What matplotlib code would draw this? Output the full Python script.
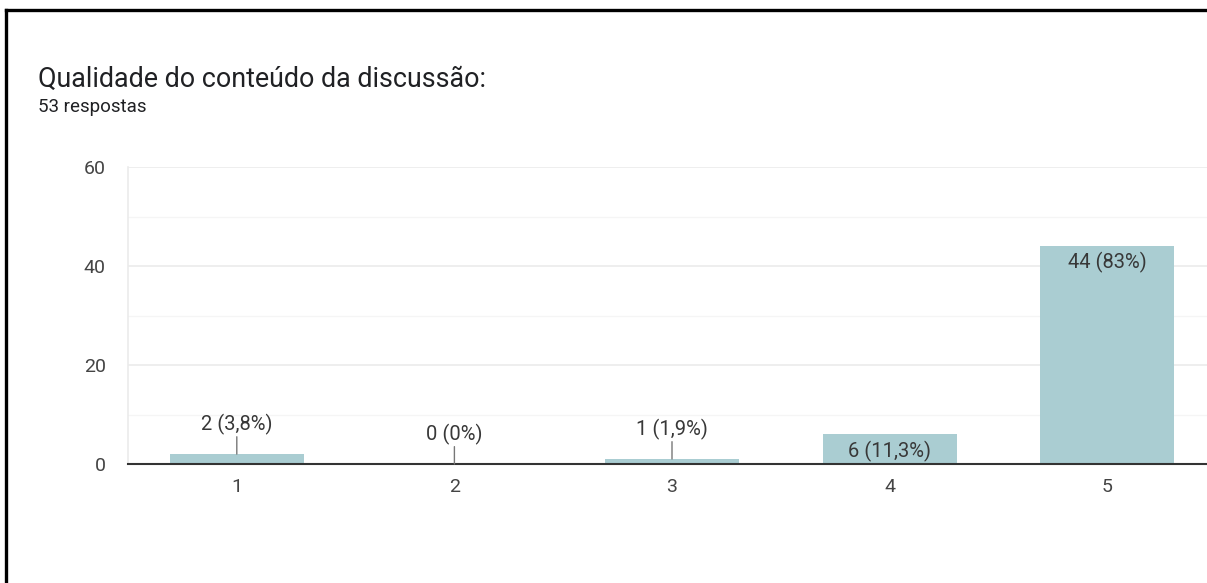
import matplotlib.pyplot as plt
from matplotlib.lines import Line2D

# Respostas por nota
categorias = ['1', '2', '3', '4', '5']
respostas = [2, 0, 1, 6, 44]
rotulos = ['2 (3,8%)', '0 (0%)', '1 (1,9%)', '6 (11,3%)', '44 (83%)']
rotulo_dentro = [False, False, False, True, True]

plt.rcParams['font.family'] = ['Roboto', 'DejaVu Sans']

fig = plt.figure(figsize=(12.07, 5.83), dpi=100)
W, H = 1207, 583

# Eixo posicionado em pixels (o lado direito passa da borda da figura)
x0, x1 = 128, 128 + 1088
y0, y1 = 464, 167
ax = fig.add_axes([x0 / W, 1 - y0 / H, (x1 - x0) / W, (y0 - y1) / H])

x = range(len(categorias))
ax.bar(x, respostas, width=0.615, color='#aacdd2', zorder=3)

ax.set_xlim(-0.5, 4.5)
ax.set_ylim(0, 60)
ax.set_yticks([0, 20, 40, 60])
ax.set_yticks([10, 30, 50], minor=True)
ax.set_xticks(list(x))
ax.set_xticklabels(categorias)

ax.grid(axis='y', which='major', color='#ebebeb', linewidth=1.2, zorder=0)
ax.grid(axis='y', which='minor', color='#f5f5f5', linewidth=1.0, zorder=0)
ax.tick_params(axis='both', which='both', length=0, labelsize=14, colors='#444444')
ax.tick_params(axis='x', pad=10)
ax.tick_params(axis='y', pad=16)

for s in ['top', 'right']:
    ax.spines[s].set_visible(False)
ax.spines['left'].set_color('#ebebeb')
ax.spines['left'].set_linewidth(1.2)
ax.spines['bottom'].set_color('#333333')
ax.spines['bottom'].set_linewidth(1.5)
ax.spines['bottom'].set_zorder(4)

# Rótulos de valor: dentro da barra ou acima com linha guia
for i, (v, txt, dentro) in enumerate(zip(respostas, rotulos, rotulo_dentro)):
    if dentro:
        ax.annotate(txt, (i, v), xytext=(0, -12), textcoords='offset points',
                    ha='center', va='center', fontsize=14.5, color='#383838', zorder=5)
    else:
        ax.annotate('', (i, v), xytext=(0, 12.5), textcoords='offset points',
                    arrowprops=dict(arrowstyle='-', color='#777777', lw=1.0,
                                    shrinkA=0, shrinkB=0), zorder=5)
        ax.annotate(txt, (i, v), xytext=(0, 21), textcoords='offset points',
                    ha='center', va='center', fontsize=14.5, color='#383838', zorder=5)

# Títulos
fig.text(38 / W, 1 - 87 / H, 'Qualidade do conteúdo da discussão:',
         fontsize=19.4, color='#202124', va='baseline')
fig.text(38 / W, 1 - 112 / H, '53 respostas', fontsize=13.5, color='#202124',
         va='baseline')

# Moldura preta (esquerda e topo)
fig.add_artist(Line2D([6 / W, 6 / W], [0, 1 - 10 / H], color='black', lw=2.4,
                      transform=fig.transFigure, solid_capstyle='projecting'))
fig.add_artist(Line2D([6 / W, 1], [1 - 10 / H, 1 - 10 / H], color='black', lw=2.4,
                      transform=fig.transFigure, solid_capstyle='projecting'))

fig.savefig('out.png', dpi=100, facecolor='white')
